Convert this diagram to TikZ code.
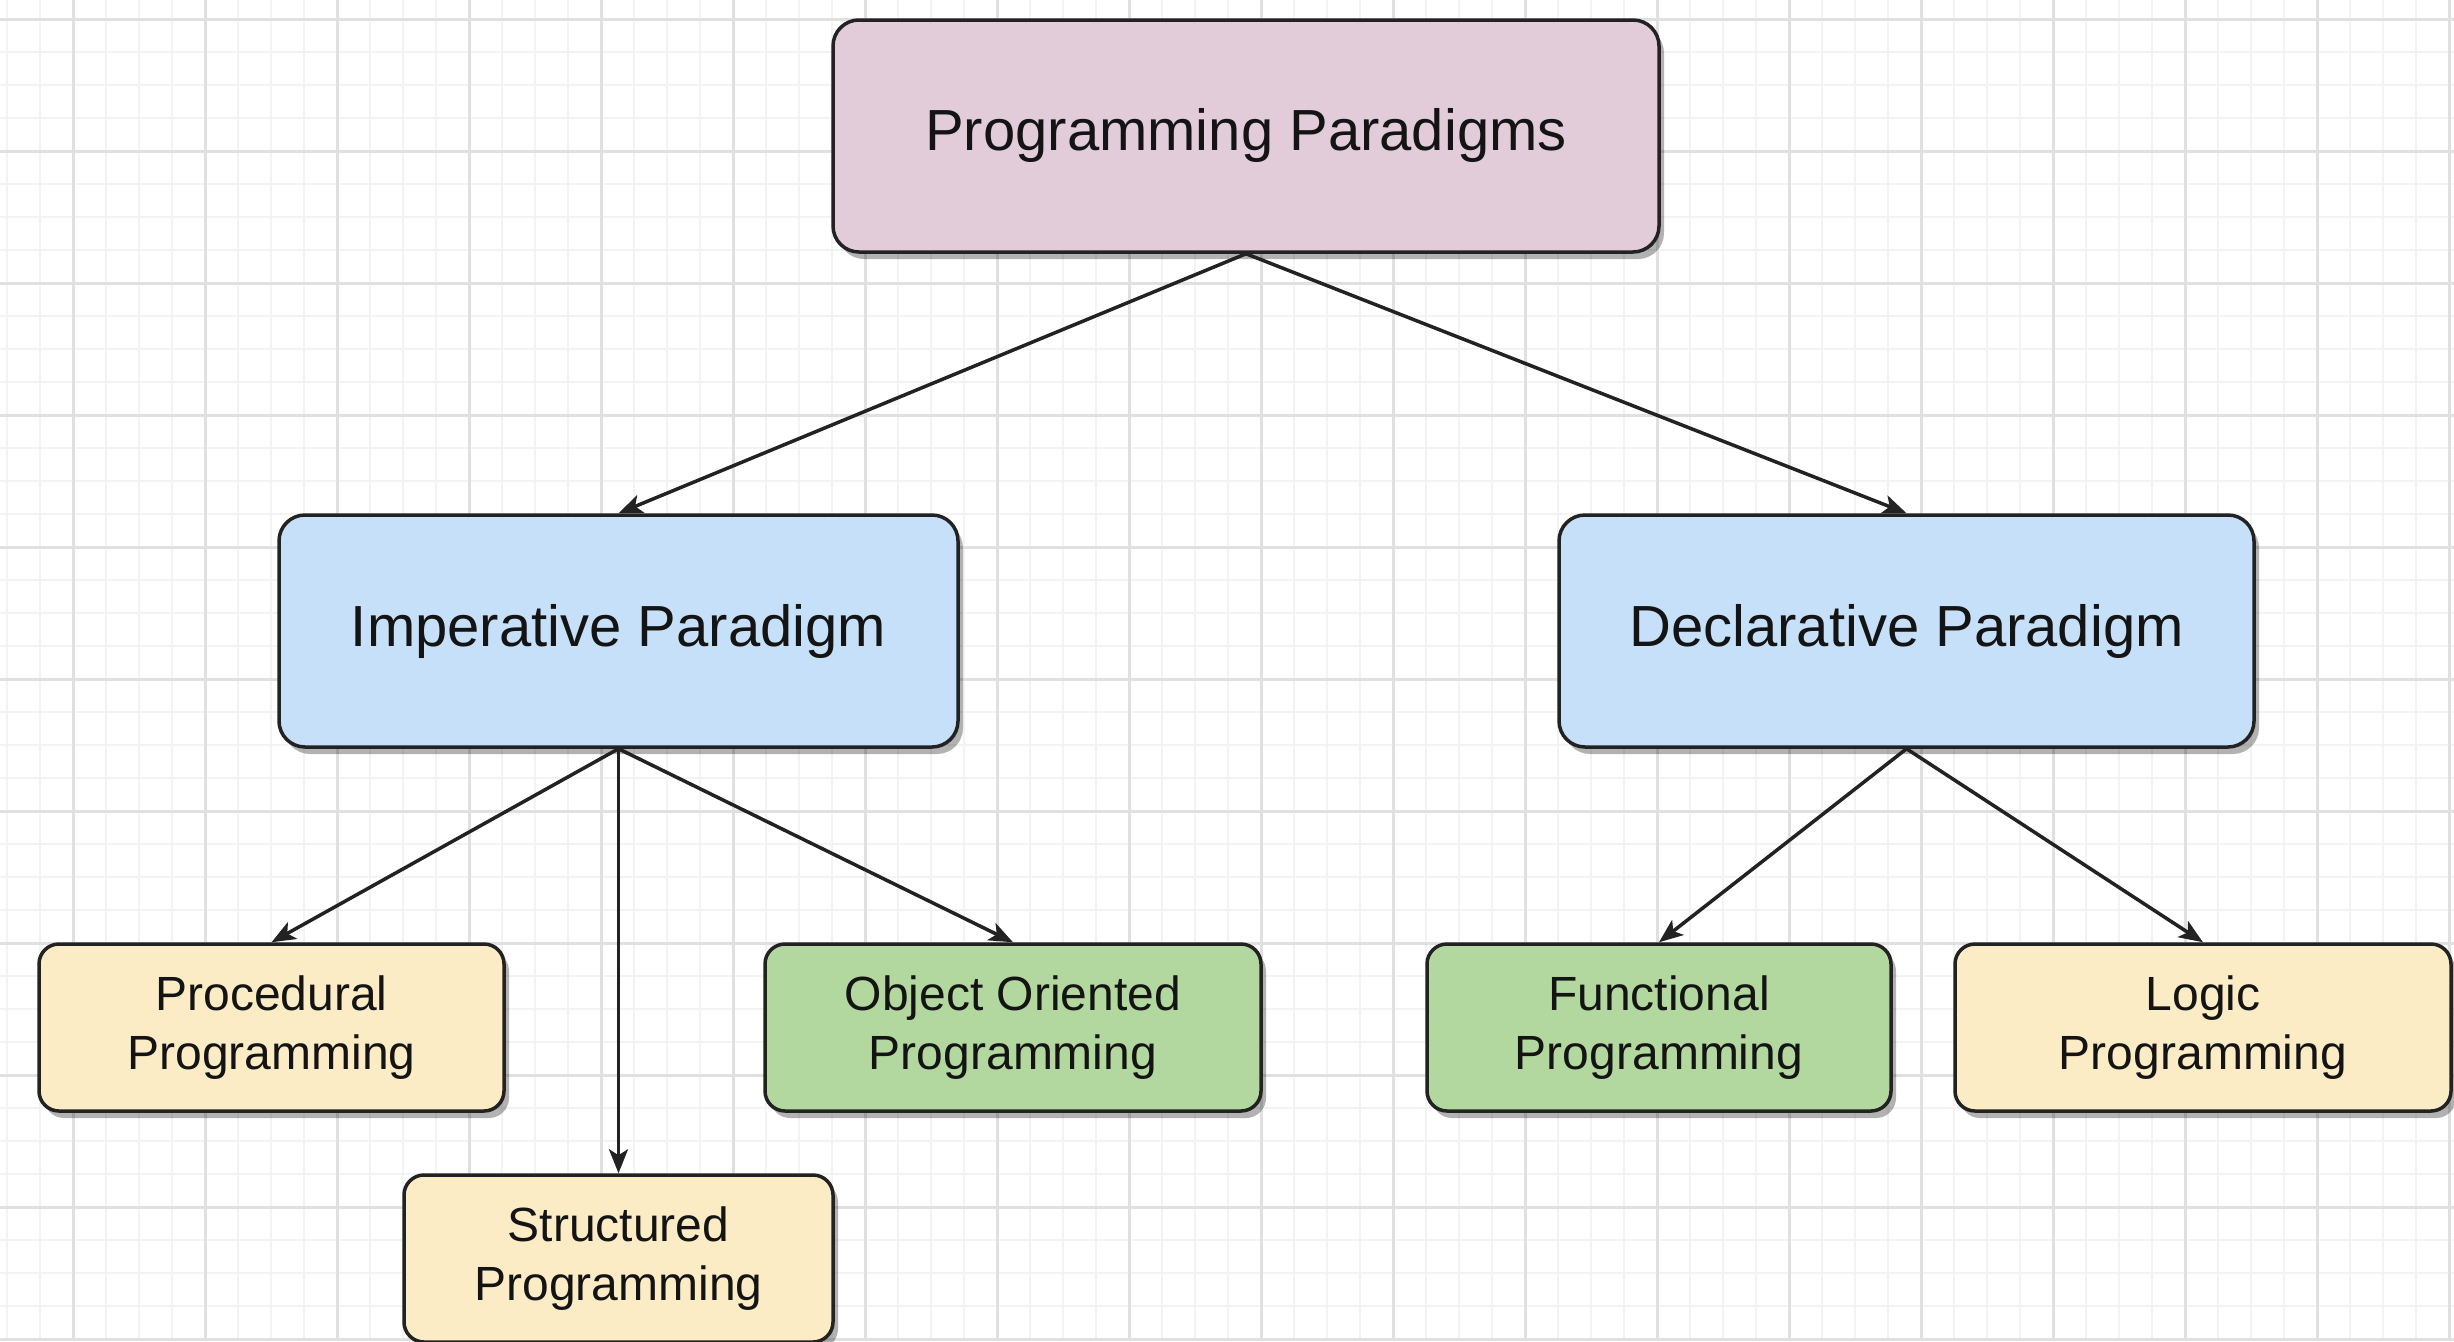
\documentclass[tikz,border=0pt]{standalone}
\usepackage{fontspec}
\setmainfont{Liberation Sans}
\usetikzlibrary{arrows.meta,shadows}

\definecolor{gridminor}{HTML}{F3F3F3}
\definecolor{gridmajor}{HTML}{E0E0E0}
\definecolor{rootfill}{HTML}{E2CCDA}
\definecolor{parafill}{HTML}{C6E0FA}
\definecolor{yellowfill}{HTML}{FBECC5}
\definecolor{greenfill}{HTML}{B3D89F}
\definecolor{edgecol}{HTML}{222222}

\tikzset{
  box/.style={draw=edgecol, line width=3.5pt, rounded corners=26pt,
    align=center, inner sep=0pt, text=black!92,
    drop shadow={shadow xshift=5pt, shadow yshift=-7pt, fill=black, opacity=0.3}},
  bigbox/.style={box, minimum height=232pt, font=\fontsize{58}{70}\selectfont},
  smallbox/.style={box, rounded corners=20pt, minimum height=167pt,
    font=\fontsize{48}{59}\selectfont},
  link/.style={draw=edgecol, line width=3.5pt,
    -{Stealth[length=24pt, width=19pt, inset=6pt]}}
}

\begin{document}
\begin{tikzpicture}[x=1pt, y=-1pt]
  \useasboundingbox (0,0) rectangle (2454,1341);
  \begin{scope}
    \clip (0,0) rectangle (2454,1341);
    \fill[white] (0,0) rectangle (2454,1341);
    % background grid: fine lines every 33 units, heavier every 132
    \foreach \i in {-2,...,75} {
      \draw[gridminor, line width=2.5pt] (73+33*\i,0) -- (73+33*\i,1341);
    }
    \foreach \i in {0,...,41} {
      \draw[gridminor, line width=2.5pt] (0,19+33*\i) -- (2454,19+33*\i);
    }
    \foreach \i in {-1,...,18} {
      \draw[gridmajor, line width=3pt] (73+132*\i,0) -- (73+132*\i,1341);
    }
    \foreach \i in {0,...,10} {
      \draw[gridmajor, line width=3pt] (0,19+132*\i) -- (2454,19+132*\i);
    }

    % nodes
    \node[bigbox, fill=rootfill, minimum width=826pt] (root) at (1246,136) {Programming Paradigms};
    \node[bigbox, fill=parafill, minimum width=679pt] (imp) at (618.5,631) {Imperative Paradigm};
    \node[bigbox, fill=parafill, minimum width=695pt] (decl) at (1906.5,631) {Declarative Paradigm};

    \node[smallbox, fill=yellowfill, minimum width=465pt] (proc) at (271.5,1027.5) {Procedural\\Programming};
    \node[smallbox, fill=greenfill, minimum width=496pt] (oop) at (1013,1027.5) {Object Oriented\\Programming};
    \node[smallbox, fill=yellowfill, minimum width=429pt] (struct) at (618.5,1258.5) {Structured\\Programming};
    \node[smallbox, fill=greenfill, minimum width=464pt] (func) at (1659,1027.5) {Functional\\Programming};
    \node[smallbox, fill=yellowfill, minimum width=496pt] (logic) at (2203,1027.5) {Logic\\Programming};

    % connectors
    \draw[link] (root.south) -- (imp.north);
    \draw[link] (root.south) -- (decl.north);
    \draw[link] (imp.south) -- (proc.north);
    \draw[link] (imp.south) -- (struct.north);
    \draw[link] (imp.south) -- (oop.north);
    \draw[link] (decl.south) -- (func.north);
    \draw[link] (decl.south) -- (logic.north);
  \end{scope}
\end{tikzpicture}
\end{document}
